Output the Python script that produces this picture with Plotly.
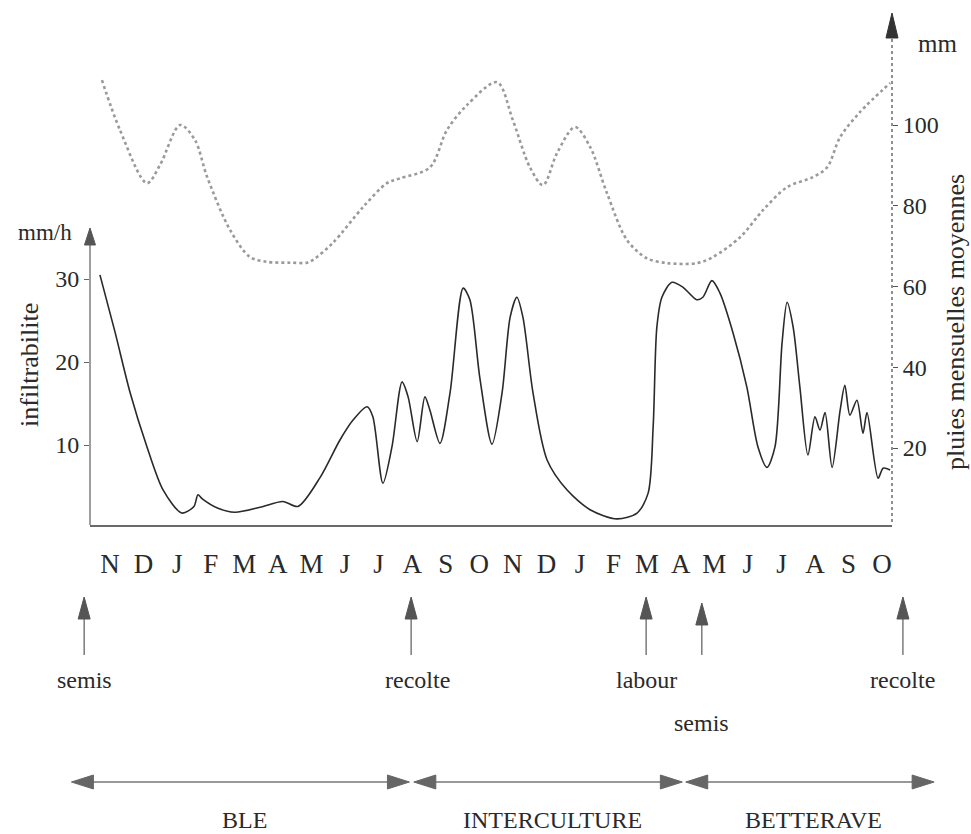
import plotly.graph_objects as go

W, H = 971, 834
FONT = "Liberation Serif"
INK = "#2a2a2a"
GREY = "#5a5a5a"

# Month tick labels (Nov of year 1 to Oct of year 3), positions 0..23
months = ["N", "D", "J", "F", "M", "A", "M", "J", "J", "A", "S", "O",
          "N", "D", "J", "F", "M", "A", "M", "J", "J", "A", "S", "O"]

# Infiltrability (mm/h) against time in months from the wheat sowing
infil_t = [-0.30, 0.15, 0.60, 1.10, 1.58, 2.14, 2.50, 2.62, 2.75, 3.20, 3.72, 4.47, 5.15, 5.60,
           6.26, 6.85, 7.24, 7.66, 7.83, 8.13, 8.40, 8.70, 8.88, 9.15, 9.38, 9.53, 9.83,
           10.13, 10.52, 10.72, 11.02, 11.38, 11.68, 11.92, 12.12, 12.30, 12.60, 13.02,
           13.61, 14.30, 15.10, 15.70, 16.03, 16.18, 16.29, 16.44, 16.74, 17.07, 17.48,
           17.66, 17.93, 18.17, 18.56, 18.97, 19.30, 19.57, 19.81, 20.02, 20.17, 20.35,
           20.55, 20.79, 21.00, 21.15, 21.30, 21.51, 21.75, 21.89, 22.04, 22.25, 22.43,
           22.55, 22.88, 23.03, 23.24]
infil_v = [30.5, 23.6, 16.3, 9.8, 4.6, 1.8, 2.6, 4.0, 3.5, 2.4, 1.9, 2.5, 3.2, 2.6,
           6.1, 10.6, 13.0, 14.6, 13.4, 5.4, 9.8, 17.6, 15.8, 10.4, 15.8, 14.2, 10.2,
           16.3, 28.9, 27.5, 18.0, 10.1, 16.3, 25.4, 27.8, 25.4, 16.3, 8.2,
           4.6, 2.2, 1.1, 1.8, 4.2, 12.2, 24.2, 27.8, 29.6, 29.0, 27.5,
           27.8, 29.8, 28.3, 23.5, 17.0, 9.8, 7.3, 9.8, 22.3, 27.2, 24.2,
           17.0, 8.8, 13.4, 11.8, 13.9, 7.3, 14.2, 17.2, 13.6, 15.4, 11.4,
           13.9, 6.0, 7.2, 7.0]

# Mean monthly rainfall (mm)
rain_t = [-0.24, 0.30, 1.10, 1.49, 2.09, 2.53, 2.89, 3.57, 4.17, 4.68, 5.36, 5.87, 6.05,
          6.64, 7.54, 8.25, 8.64, 9.53, 10.04, 10.63, 11.53, 12.00, 12.51, 12.90,
          13.32, 13.85, 14.30, 14.80, 15.40, 15.99, 16.59, 17.49, 17.96, 18.77, 19.45,
          20.17, 20.94, 21.36, 21.75, 22.34, 23.24]
rain_mm = [111.1, 98.7, 85.6, 90.1, 100.0, 96.3, 87.2, 74.1, 67.3, 66.1, 65.9, 65.9, 66.6,
           70.8, 79.7, 85.6, 86.8, 89.5, 98.8, 104.9, 110.6, 101.2, 89.5, 85.1,
           93.1, 99.5, 94.6, 83.2, 71.5, 67.0, 65.8, 65.8, 67.3, 72.2, 78.9,
           84.6, 87.1, 89.5, 97.0, 103.2, 110.4]

# Field operations (month position, label, label row)
event_t = [-0.77, 8.97, 15.97, 17.63, 23.62]
event_lbl = ["semis", "recolte", "labour", "semis", "recolte"]
event_row = [0, 0, 0, 1, 0]

# Crop periods (start and end month)
period_lbl = ["BLE", "INTERCULTURE", "BETTERAVE"]
period_t0 = [-1.15, 9.05, 17.15]
period_t1 = [8.92, 17.05, 24.55]

# ---- geometry helpers (figure drawn with zero margins, so paper == page) ----
PX0, PXM = 110.0, 33.57          # pixel of month 0 and pixels per month
X_LEFT, X_RIGHT = 90.0, 892.0     # plot area edges (px)
Y_TOP, Y_BOT = 10.0, 525.0


def mx(m):
    return (PX0 + PXM * m) / W


def px(x):
    return x / W


def py(y):
    return 1 - y / H


x_range = [(X_LEFT - PX0) / PXM, (X_RIGHT - PX0) / PXM]
y1_range = [(528.0 - Y_BOT) / 8.3, (528.0 - Y_TOP) / 8.3]
y2_range = [(528.75 - Y_BOT) / 4.0375, (528.75 - Y_TOP) / 4.0375]

fig = go.Figure()
fig.add_trace(go.Scatter(x=rain_t, y=rain_mm, yaxis="y2", mode="lines",
                         line=dict(color="#9a9a9a", width=2.6, dash="dot",
                                   shape="spline", smoothing=0.9),
                         hoverinfo="skip", showlegend=False))
fig.add_trace(go.Scatter(x=infil_t, y=infil_v, mode="lines",
                         line=dict(color=INK, width=1.6, shape="spline", smoothing=0.8),
                         hoverinfo="skip", showlegend=False))

shapes = []
annotations = []


def tri(tip, base_c, half, color):
    (tx, ty), (bx, by) = tip, base_c
    if tx == bx:  # vertical
        pts = [(tx, ty), (bx - half, by), (bx + half, by)]
    else:          # horizontal
        pts = [(tx, ty), (bx, by - half), (bx, by + half)]
    path = "M " + " L ".join(f"{px(a):.5f},{py(b):.5f}" for a, b in pts) + " Z"
    return dict(type="path", xref="paper", yref="paper", path=path,
                fillcolor=color, line=dict(color=color, width=1))


def seg(x0, y0, x1, y1, color, width, dash="solid"):
    return dict(type="line", xref="paper", yref="paper",
                x0=px(x0), y0=py(y0), x1=px(x1), y1=py(y1),
                line=dict(color=color, width=width, dash=dash))


def label(x, y, text, size, angle=0):
    return dict(x=px(x), y=py(y), xref="paper", yref="paper", text=text,
                textangle=angle, showarrow=False, xanchor="center", yanchor="middle",
                font=dict(family=FONT, size=size, color=INK))


# left axis with arrow
shapes.append(seg(X_LEFT, Y_BOT, X_LEFT, 242, "#6a6a6a", 1.3))
shapes.append(tri((X_LEFT, 228), (X_LEFT, 245), 5.5, "#555"))
# right axis (dotted) with arrow
shapes.append(seg(X_RIGHT, 522, X_RIGHT, 36, "#555", 1.3, "dot"))
shapes.append(tri((X_RIGHT, 13), (X_RIGHT, 38), 6, "#333"))

# operation arrows
for t, lbl, row in zip(event_t, event_lbl, event_row):
    x = mx(t) * W
    tip = 597 if row == 0 else 603
    shapes.append(seg(x, 655, x, tip + 20, GREY, 1.2))
    shapes.append(tri((x, tip), (x, tip + 22), 6, "#555"))
    annotations.append(label(x + (6 if lbl == "recolte" and t < 20 else 0),
                             680 if row == 0 else 723, lbl, 24))

# crop period double arrows
for lbl, t0, t1 in zip(period_lbl, period_t0, period_t1):
    x0, x1 = mx(t0) * W, mx(t1) * W
    yy = 782
    shapes.append(seg(x0 + 18, yy, x1 - 18, yy, "#777", 1.5))
    shapes.append(tri((x0, yy), (x0 + 22, yy), 7, "#666"))
    shapes.append(tri((x1, yy), (x1 - 22, yy), 7, "#666"))
    annotations.append(label((x0 + x1) / 2 + 4, 820, lbl, 24))

# axis titles and units
annotations += [
    label(30, 365, "infiltrabilite", 26, -90),
    label(955, 322, "pluies mensuelles moyennes", 26, -90),
    label(45, 232, "mm/h", 23),
    label(937, 43, "mm", 25),
]

fig.update_layout(
    width=W, height=H, margin=dict(l=0, r=0, t=0, b=0),
    paper_bgcolor="white", plot_bgcolor="white",
    shapes=shapes, annotations=annotations,
    xaxis=dict(domain=[px(X_LEFT), px(X_RIGHT)], range=x_range,
               tickvals=list(range(len(months))), ticktext=months,
               ticks="outside", ticklen=14, tickcolor="rgba(0,0,0,0)",
               showline=True, linecolor="#6a6a6a", linewidth=1.5,
               showgrid=False, zeroline=False,
               tickfont=dict(family=FONT, size=27, color=INK)),
    yaxis=dict(domain=[py(Y_BOT), py(Y_TOP)], range=y1_range,
               tickvals=[10, 20, 30], ticks="outside", ticklen=5, tickcolor="#666",
               showline=False, showgrid=False, zeroline=False,
               tickfont=dict(family=FONT, size=24, color=INK)),
    yaxis2=dict(domain=[py(Y_BOT), py(Y_TOP)], range=y2_range, overlaying="y", side="right",
                anchor="x", tickvals=[20, 40, 60, 80, 100], ticks="outside", ticklen=5,
                tickcolor="#555", showline=False, showgrid=False, zeroline=False,
                tickfont=dict(family=FONT, size=24, color=INK)),
)

fig.write_html("out.html")
